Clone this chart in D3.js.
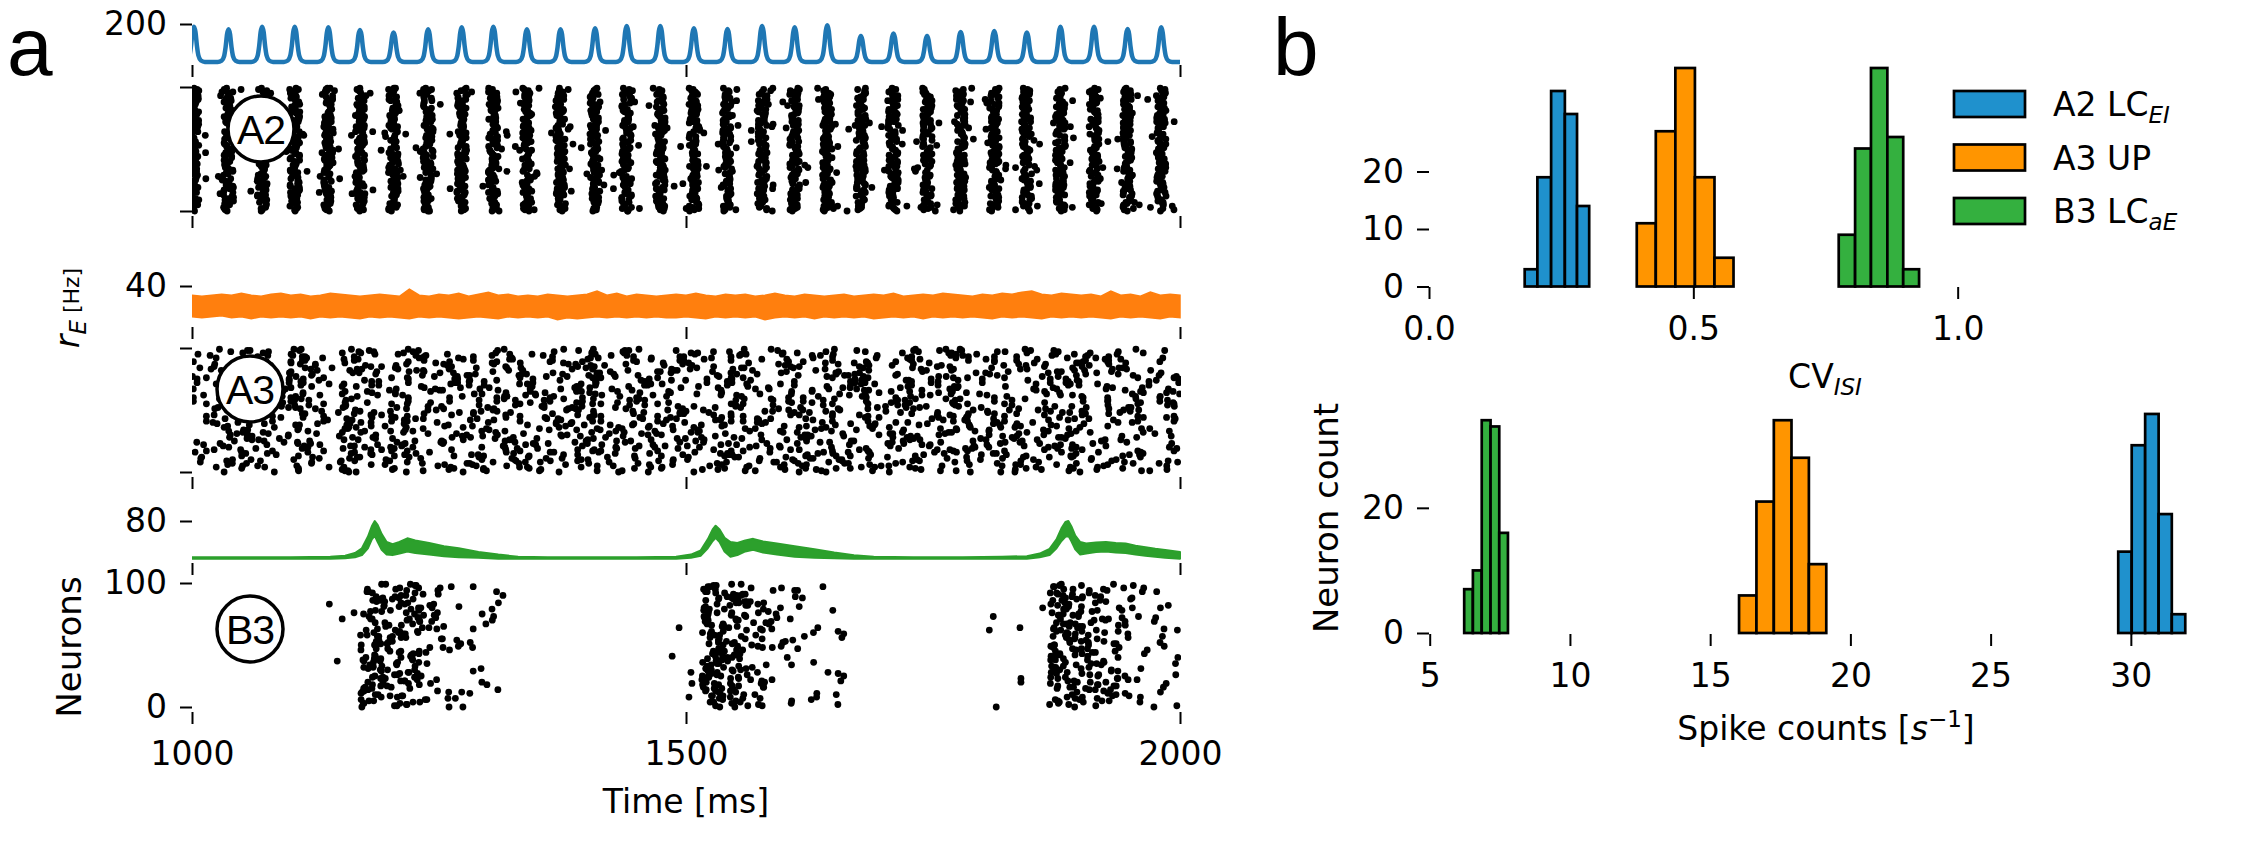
<!DOCTYPE html>
<html>
<head>
<meta charset="utf-8">
<script src="https://cdn.jsdelivr.net/npm/d3@7"></script>
<style>
    body { margin: 0; background: #fff; }
    svg { display: block; font-family: "DejaVu Sans", sans-serif; }
</style>
</head>
<body>
<svg id="fig" width="2250" height="844"></svg>
<script>
//////////////////////   DATA    //////////////////////

var timeTicks = [1000, 1500, 2000];

// A2: population rate peaks
var a2PeakTimes = [1002, 1037, 1071, 1104, 1138, 1170, 1204, 1239, 1273, 1305,
    1339, 1373, 1408, 1440, 1474, 1508, 1542, 1577, 1610, 1643,
    1677, 1710, 1744, 1778, 1812, 1845, 1879, 1913, 1947, 1981];
var a2PeakRates = [187, 174, 187, 187, 184, 171, 159, 174, 184, 187,
    174, 174, 179, 190, 190, 179, 175, 190, 184, 194,
    141, 154, 141, 161, 166, 159, 187, 187, 175, 184];
var a2BaseRate = 15;
var peakShapeOffsets = [-11, -7, -4.5, -3, -1.5, 0, 1.5, 3, 4.5, 7, 11];
var peakShapeFrac = [0, 0.04, 0.18, 0.45, 0.85, 1, 0.85, 0.45, 0.18, 0.04, 0];

// A3: noisy rate band, one value every 10 ms from 1000 to 2000
var a3Upper = [31, 30, 31, 32, 31, 33, 31, 30, 32, 33,
    31, 32, 30, 31, 33, 32, 31, 30, 31, 32,
    31, 30, 37, 31, 30, 32, 31, 33, 30, 32,
    34, 31, 32, 30, 31, 30, 32, 31, 30, 31,
    32, 35, 31, 33, 30, 32, 31, 30, 31, 32,
    31, 33, 31, 30, 32, 31, 32, 30, 31, 33,
    31, 30, 32, 31, 30, 31, 32, 30, 31, 32,
    31, 33, 30, 31, 32, 31, 33, 32, 31, 30,
    32, 31, 33, 32, 34, 35, 32, 31, 33, 32,
    31, 32, 30, 35, 31, 32, 30, 34, 31, 32, 31];
var a3Lower = [10, 9, 10, 11, 9, 10, 8, 10, 9, 10,
    9, 10, 8, 10, 9, 10, 9, 8, 10, 9,
    10, 9, 8, 10, 9, 10, 9, 8, 9, 10,
    9, 8, 10, 9, 10, 9, 10, 7, 9, 8,
    9, 10, 9, 10, 9, 10, 9, 10, 9, 9,
    10, 9, 8, 10, 9, 10, 9, 10, 7, 9,
    10, 9, 10, 8, 10, 9, 10, 9, 10, 8,
    9, 10, 9, 10, 8, 10, 9, 10, 9, 10,
    9, 8, 10, 9, 10, 9, 8, 10, 9, 10,
    9, 10, 9, 8, 10, 9, 10, 9, 8, 10, 9];

// B3: rate envelope
var b3Times = [1000, 1050, 1100, 1140, 1155, 1165, 1172, 1178, 1182, 1185, 1188, 1192, 1197, 1203, 1210,
    1218, 1226, 1240, 1255, 1270, 1290, 1310, 1330, 1360, 1400, 1450, 1490, 1505, 1515, 1522,
    1527, 1530, 1534, 1539, 1545, 1552, 1560, 1568, 1578, 1592, 1610, 1630, 1650, 1670, 1690,
    1730, 1780, 1820, 1845, 1858, 1868, 1875, 1880, 1884, 1887, 1890, 1894, 1899, 1905, 1915,
    1925, 1935, 1945, 1955, 1965, 1975, 1985, 2000];
var b3Upper = [11, 11, 11, 12, 14, 19, 28, 50, 70, 80, 72, 55, 40, 36, 40,
    47, 43, 38, 32, 28, 21, 16, 12, 11, 11, 11, 12, 16, 24, 45,
    64, 71, 64, 48, 40, 38, 43, 46, 41, 37, 32, 26, 20, 15, 12,
    11, 11, 12, 13, 18, 27, 45, 66, 78, 80, 70, 52, 40, 37, 39,
    40, 38, 37, 33, 30, 27, 25, 21];
var b3Lower = [8, 8, 8, 8, 9, 11, 15, 28, 45, 52, 40, 25, 16, 15, 18,
    22, 19, 16, 13, 11, 10, 8, 8, 8, 8, 8, 8, 10, 14, 28,
    42, 48, 40, 22, 12, 15, 22, 25, 20, 16, 12, 10, 9, 8, 8,
    8, 8, 8, 8, 11, 15, 28, 42, 50, 52, 42, 26, 16, 18, 21,
    22, 20, 19, 16, 14, 12, 10, 8];
var b3BurstStarts = [1170, 1516, 1868];
var b3BurstOffsets = [0, 4, 8, 12, 16, 20, 24, 28, 32, 36, 40, 45, 50, 56, 62, 70, 82, 98, 118, 145];
var b3Strays = [[1139, 83], [1152, 71], [1147, 37], [1164, 76], [1493, 64], [1486, 41], [1505, 28],
    [1506, 19], [1503, 8], [1811, 73], [1807, 62], [1838, 64], [1839, 23], [1839, 20], [1814, 0], [1861, 80]];

// hand typed shuffle used to place raster dots
var jitterTable = [37, 82, 5, 61, 94, 23, 48, 70, 12, 89,
    56, 3, 77, 31, 66, 19, 98, 44, 8, 52,
    85, 27, 63, 14, 91, 39, 74, 1, 58, 33,
    96, 21, 68, 46, 10, 80, 29, 55, 87, 16,
    42, 72, 6, 99, 35, 60, 24, 83, 50, 13,
    78, 40, 92, 2, 65, 30, 86, 18, 53, 71,
    9, 97, 43, 26, 75, 59, 4, 88, 34, 62,
    20, 93, 47, 11, 81, 38, 67, 0, 57, 28,
    90, 15, 73, 49, 84, 7, 64, 32, 95, 22,
    54, 79, 17, 45, 69, 36, 76, 25, 41, 51];

// panel b histograms
var cvA2Edges = [0.181, 0.205, 0.231, 0.257, 0.280, 0.303];
var cvA2Counts = [3, 19, 34, 30, 14];
var cvA3Edges = [0.393, 0.429, 0.466, 0.503, 0.540, 0.576];
var cvA3Counts = [11, 27, 38, 19, 5];
var cvB3Edges = [0.775, 0.806, 0.836, 0.867, 0.897, 0.927];
var cvB3Counts = [9, 24, 38, 26, 3];
var scA2Edges = [29.55, 30.03, 30.51, 30.99, 31.46, 31.94];
var scA2Counts = [13, 30, 35, 19, 3];
var scA3Edges = [16.03, 16.65, 17.27, 17.90, 18.52, 19.14];
var scA3Counts = [6, 21, 34, 28, 11];
var scB3Edges = [6.23, 6.54, 6.855, 7.17, 7.48, 7.79];
var scB3Counts = [7, 10, 34, 33, 16];

var cvTicks = [0, 0.5, 1.0];
var scTicks = [5, 10, 15, 20, 25, 30];

var COLORS = {
    a2Line: '#1f77b4', a3Line: '#ff7f0e', b3Line: '#2ca02c',
    a2Bar: '#1f91cd', a3Bar: '#ff9500', b3Bar: '#34b03f'
};

//////////////////////   HELPERS    //////////////////////

var svg = d3.select('#fig');

function styleAxis(sel) {
    sel.attr('font-family', '"DejaVu Sans", sans-serif').attr('font-size', 33);
    sel.select('.domain').remove();
    sel.selectAll('line').attr('stroke', '#000').attr('stroke-width', 2);
    sel.selectAll('text').attr('fill', '#000');
}

function bottomTicks(x, y0, ticks, format) {
    svg.append('g')
        .attr('transform', 'translate(0,' + y0 + ')')
        .call(d3.axisBottom(x).tickValues(ticks).tickSize(12).tickPadding(18).tickFormat(format))
        .call(styleAxis);
}

function leftTicks(x0, y, ticks, format) {
    svg.append('g')
        .attr('transform', 'translate(' + x0 + ',0)')
        .call(d3.axisLeft(y).tickValues(ticks).tickSize(12).tickPadding(13).tickFormat(format))
        .call(styleAxis);
}

var clipCount = 0;
function clipRect(x0, y0, w, h) {
    var id = 'clip' + (clipCount++);
    svg.append('clipPath').attr('id', id)
        .append('rect').attr('x', x0).attr('y', y0).attr('width', w).attr('height', h);
    return 'url(#' + id + ')';
}

function drawRaster(spikes, y, top, bottom) {
    svg.append('g')
        .attr('clip-path', clipRect(x(1000), top - 10, x(2000) - x(1000) + 1, bottom - top + 10))
        .selectAll('circle')
        .data(spikes)
        .enter()
        .append('circle')
        .attr('cx', function (d) { return x(d.t); })
        .attr('cy', function (d) { return y(d.n); })
        .attr('r', 3.4)
        .attr('fill', '#000');
}

function circledLabel(cx, cy, label) {
    var g = svg.append('g').attr('transform', 'translate(' + cx + ',' + cy + ')');
    g.append('circle').attr('r', 33).attr('fill', '#fff').attr('stroke', '#000').attr('stroke-width', 3.5);
    g.append('text')
        .attr('text-anchor', 'middle')
        .attr('dy', '0.36em')
        .attr('font-family', '"Liberation Sans", Arial, sans-serif')
        .attr('font-size', 41)
        .attr('letter-spacing', -1)
        .text(label);
}

function expandCounts(counts, values) {
    var out = [];
    counts.forEach(function (c, i) {
        for (var k = 0; k < c; ++k) out.push(values[i]);
    });
    return out;
}

//////////////////////   PANEL A    //////////////////////

var x = d3.scaleLinear().domain([1000, 2000]).range([192, 1180]);
var plotClip = clipRect(x(1000), 0, x(2000) - x(1000) + 1, 844);

// A2 rate
var yA2Rate = d3.scaleLinear().domain([0, 200]).range([65, 24]);
var a2Points = [];
a2PeakTimes.forEach(function (p, k) {
    peakShapeOffsets.forEach(function (o, i) {
        a2Points.push([p + o, a2BaseRate + peakShapeFrac[i] * (a2PeakRates[k] - a2BaseRate)]);
    });
});
a2Points.push([2000, a2BaseRate]);
svg.append('path')
    .attr('clip-path', plotClip)
    .attr('d', d3.line()
        .x(function (d) { return x(d[0]); })
        .y(function (d) { return yA2Rate(d[1]); })
        .curve(d3.curveMonotoneX)(a2Points))
    .attr('fill', 'none')
    .attr('stroke', COLORS.a2Line)
    .attr('stroke-width', 4.5)
    .attr('stroke-linejoin', 'round');
leftTicks(192, yA2Rate, [200], d3.format('d'));
bottomTicks(x, 65, timeTicks, '');

// A2 raster
var yA2 = d3.scaleLinear().domain([0, 100]).range([211, 87]);
var spikesA2 = [];
a2PeakTimes.forEach(function (p, k) {
    for (var n = 0; n < 100; ++n) {
        var u = jitterTable[(jitterTable[n] + 7 * k + 3 * n) % 100];
        var v = jitterTable[(13 * n + 29 * k + 50) % 100];
        var off = (u - 49.5) / 49.5 * 5;
        if (v > 92) off *= 2.8;
        spikesA2.push({t: p + off, n: n});
        if (v < 4) spikesA2.push({t: p - off * 2.2 + 3, n: n});
    }
});
drawRaster(spikesA2, yA2, 87, 216);
leftTicks(192, yA2, [0, 100], '');
bottomTicks(x, 216, timeTicks, '');

// A3 rate
var yA3Rate = d3.scaleLinear().domain([0, 40]).range([327, 286]);
svg.append('path')
    .attr('clip-path', plotClip)
    .attr('d', d3.area()
        .x(function (d, i) { return x(1000 + 10 * i); })
        .y0(function (d, i) { return yA3Rate(a3Lower[i]); })
        .y1(function (d) { return yA3Rate(d); })(a3Upper))
    .attr('fill', COLORS.a3Line)
    .attr('stroke', COLORS.a3Line)
    .attr('stroke-width', 1.5);
leftTicks(192, yA3Rate, [40], d3.format('d'));
bottomTicks(x, 327, timeTicks, '');

// A3 raster, spikes per neuron taken from the spike count histogram
var yA3 = d3.scaleLinear().domain([0, 100]).range([472, 348]);
var a3NeuronCounts = expandCounts(scA3Counts, [16, 17, 18, 18, 19]);
var spikesA3 = [];
for (var n = 0; n < 100; ++n) {
    var c = a3NeuronCounts[jitterTable[n]];
    for (var j = 0; j < c; ++j) {
        var u = jitterTable[(jitterTable[n] + 11 * j + 3 * n) % 100];
        var t = 1000 + (j - 0.35 + u / 100 * 1.7) * 1000 / c;
        if (t >= 1000 && t <= 2000) spikesA3.push({t: t, n: n});
    }
}
drawRaster(spikesA3, yA3, 348, 477);
leftTicks(192, yA3, [0, 100], '');
bottomTicks(x, 477, timeTicks, '');

// B3 rate
var yB3Rate = d3.scaleLinear().domain([0, 80]).range([563, 521]);
svg.append('path')
    .attr('clip-path', plotClip)
    .attr('d', d3.area()
        .x(function (d, i) { return x(b3Times[i]); })
        .y0(function (d, i) { return yB3Rate(b3Lower[i]); })
        .y1(function (d) { return yB3Rate(d); })(b3Upper))
    .attr('fill', COLORS.b3Line)
    .attr('stroke', COLORS.b3Line)
    .attr('stroke-width', 2)
    .attr('stroke-linejoin', 'round');
leftTicks(192, yB3Rate, [80], d3.format('d'));
bottomTicks(x, 563, timeTicks, '');

// B3 raster, spikes spread over the three bursts
var yB3 = d3.scaleLinear().domain([0, 100]).range([707, 583]);
var b3NeuronCounts = expandCounts(scB3Counts, [6, 7, 7, 7, 8]);
var spikesB3 = [];
for (var n = 0; n < 100; ++n) {
    var c = b3NeuronCounts[jitterTable[n]];
    for (var j = 0; j < c; ++j) {
        var burst = b3BurstStarts[(j + n) % 3];
        var qi = jitterTable[(jitterTable[n] + 17 * j + 5 * n) % 100] % 19;
        var frac = jitterTable[(7 * n + 31 * j + 13) % 100] / 100;
        var t = burst + b3BurstOffsets[qi] + frac * (b3BurstOffsets[qi + 1] - b3BurstOffsets[qi]);
        if (t <= 2000) spikesB3.push({t: t, n: n});
    }
}
b3Strays.forEach(function (s) { spikesB3.push({t: s[0], n: s[1]}); });
drawRaster(spikesB3, yB3, 583, 712);
leftTicks(192, yB3, [0, 100], d3.format('d'));
bottomTicks(x, 712, timeTicks, d3.format('d'));

circledLabel(261, 129, 'A2');
circledLabel(250, 389, 'A3');
circledLabel(250, 629, 'B3');

// axis labels
var rLabel = svg.append('text')
    .attr('transform', 'translate(79,308) rotate(-90)')
    .attr('text-anchor', 'middle');
rLabel.append('tspan').attr('font-style', 'italic').attr('font-size', 33).text('r');
rLabel.append('tspan').attr('font-style', 'italic').attr('font-size', 23).attr('dy', 7).text('E');
rLabel.append('tspan').attr('font-size', 22).attr('dy', -7).text(' [Hz]');

svg.append('text')
    .attr('transform', 'translate(81,647) rotate(-90)')
    .attr('text-anchor', 'middle')
    .attr('font-size', 34)
    .text('Neurons');

svg.append('text')
    .attr('x', 686).attr('y', 813)
    .attr('text-anchor', 'middle')
    .attr('font-size', 33)
    .text('Time [ms]');

//////////////////////   PANEL B    //////////////////////

function drawHist(xs, ys, edges, counts, color) {
    svg.append('g')
        .selectAll('rect')
        .data(counts)
        .enter()
        .append('rect')
        .attr('x', function (d, i) { return xs(edges[i]); })
        .attr('width', function (d, i) { return xs(edges[i + 1]) - xs(edges[i]); })
        .attr('y', function (d) { return ys(d); })
        .attr('height', function (d) { return ys(0) - ys(d); })
        .attr('fill', color)
        .attr('stroke', '#000')
        .attr('stroke-width', 2.7);
}

// CV histogram
var xCv = d3.scaleLinear().domain([0, 1.5]).range([1429, 2222]);
var yCv = d3.scaleLinear().domain([0, 40]).range([286.5, 56.5]);
drawHist(xCv, yCv, cvA2Edges, cvA2Counts, COLORS.a2Bar);
drawHist(xCv, yCv, cvA3Edges, cvA3Counts, COLORS.a3Bar);
drawHist(xCv, yCv, cvB3Edges, cvB3Counts, COLORS.b3Bar);
leftTicks(1429, yCv, [0, 10, 20], d3.format('d'));
bottomTicks(xCv, 287, cvTicks, d3.format('.1f'));

var cvLabel = svg.append('text')
    .attr('x', 1825).attr('y', 388)
    .attr('text-anchor', 'middle')
    .attr('font-size', 33);
cvLabel.append('tspan').text('CV');
cvLabel.append('tspan').attr('font-style', 'italic').attr('font-size', 23).attr('dy', 7).text('ISI');

// spike count histogram
var xSc = d3.scaleLinear().domain([4.95, 33.2]).range([1428.3, 2220.6]);
var ySc = d3.scaleLinear().domain([0, 36.75]).range([633, 403]);
drawHist(xSc, ySc, scB3Edges, scB3Counts, COLORS.b3Bar);
drawHist(xSc, ySc, scA3Edges, scA3Counts, COLORS.a3Bar);
drawHist(xSc, ySc, scA2Edges, scA2Counts, COLORS.a2Bar);
leftTicks(1429, ySc, [0, 20], d3.format('d'));
bottomTicks(xSc, 634, scTicks, d3.format('d'));

var scLabel = svg.append('text')
    .attr('x', 1826).attr('y', 740)
    .attr('text-anchor', 'middle')
    .attr('font-size', 33);
scLabel.append('tspan').text('Spike counts [');
scLabel.append('tspan').attr('font-style', 'italic').text('s');
scLabel.append('tspan').attr('font-size', 23).attr('dy', -13).text('\u22121');
scLabel.append('tspan').attr('dy', 13).text(']');

svg.append('text')
    .attr('transform', 'translate(1338,518) rotate(-90)')
    .attr('text-anchor', 'middle')
    .attr('font-size', 34)
    .text('Neuron count');

// legend
var legendItems = [
    {main: 'A2 LC', sub: 'EI', color: COLORS.a2Bar},
    {main: 'A3 UP', sub: '', color: COLORS.a3Bar},
    {main: 'B3 LC', sub: 'aE', color: COLORS.b3Bar}
];
var legend = svg.append('g').attr('transform', 'translate(1954,91)');
legendItems.forEach(function (item, i) {
    var row = legend.append('g').attr('transform', 'translate(0,' + (i * 53.5) + ')');
    row.append('rect')
        .attr('width', 71).attr('height', 26)
        .attr('fill', item.color)
        .attr('stroke', '#000').attr('stroke-width', 2.7);
    var txt = row.append('text').attr('x', 99).attr('y', 25).attr('font-size', 33);
    txt.append('tspan').text(item.main);
    if (item.sub) {
        txt.append('tspan').attr('font-style', 'italic').attr('font-size', 23).attr('dy', 7).text(item.sub);
    }
});

// panel letters
svg.append('text')
    .attr('x', 7).attr('y', 75)
    .attr('font-family', '"Liberation Sans", Arial, sans-serif')
    .attr('font-size', 82)
    .text('a');
svg.append('text')
    .attr('x', 1273).attr('y', 75)
    .attr('font-family', '"Liberation Sans", Arial, sans-serif')
    .attr('font-size', 82)
    .text('b');
</script>
</body>
</html>
